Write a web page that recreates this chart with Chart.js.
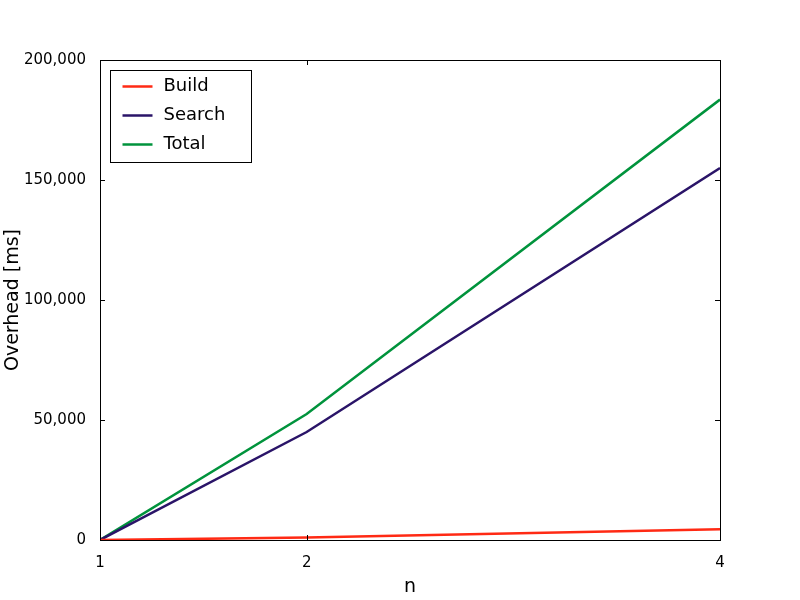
<!DOCTYPE html>
<html><head>
<script src="https://cdn.jsdelivr.net/npm/chart.js@4"></script>
<style>body{margin:0;background:#fff}#c{width:800px;height:600px}</style>
</head><body>
<div id="c"><canvas id="myChart" width="800" height="600"></canvas></div>
<script>
var nValues = [1, 2, 4];
var buildMs = [0, 1000, 4500];
var searchMs = [0, 45000, 155000];
var totalMs = [0, 52500, 183500];
var yTicks = [0, 50000, 100000, 150000, 200000];

function pts(ys) { return nValues.map(function (x, i) { return {x: x, y: ys[i]}; }); }

var frame = {
  id: 'frame',
  afterDraw: function (chart) {
    var c = chart.ctx, a = chart.chartArea;
    c.save();
    c.strokeStyle = '#000'; c.lineWidth = 1;
    c.strokeRect(a.left + 0.5, a.top + 0.5, a.right - a.left, a.bottom - a.top);
    // inward ticks on all four sides
    nValues.forEach(function (v) {
      var x = Math.round(chart.scales.x.getPixelForValue(v)) + 0.5;
      c.beginPath(); c.moveTo(x, a.bottom); c.lineTo(x, a.bottom - 5);
      c.moveTo(x, a.top); c.lineTo(x, a.top + 5); c.stroke();
    });
    yTicks.forEach(function (v) {
      var y = Math.round(chart.scales.y.getPixelForValue(v)) + 0.5;
      c.beginPath(); c.moveTo(a.left, y); c.lineTo(a.left + 5, y);
      c.moveTo(a.right, y); c.lineTo(a.right - 5, y); c.stroke();
    });
    // legend box
    var bx = a.left + 10.5, by = a.top + 10.5, bw = 141, bh = 92;
    c.fillStyle = '#fff'; c.fillRect(bx, by, bw, bh); c.strokeRect(bx, by, bw, bh);
    c.font = '18px "DejaVu Sans"'; c.textBaseline = 'middle';
    chart.data.datasets.forEach(function (d, i) {
      var y = by + 16 + i * 29;
      c.strokeStyle = d.borderColor; c.lineWidth = 2.5;
      c.beginPath(); c.moveTo(bx + 12, y); c.lineTo(bx + 42, y); c.stroke();
      c.fillStyle = '#000'; c.fillText(d.label, bx + 53, y);
    });
    c.restore();
  }
};

new Chart(document.getElementById('myChart').getContext('2d'), {
  type: 'line',
  data: {
    datasets: [
      {label: 'Build', data: pts(buildMs), borderColor: '#ff2a14'},
      {label: 'Search', data: pts(searchMs), borderColor: '#2a1468'},
      {label: 'Total', data: pts(totalMs), borderColor: '#00933c'}
    ]
  },
  options: {
    responsive: false, animation: false,
    layout: {padding: {top: 60, right: 80, left: 0, bottom: 0}},
    elements: {point: {radius: 0}, line: {borderWidth: 2.5, tension: 0}},
    plugins: {legend: {display: false}, tooltip: {enabled: false}},
    scales: {
      x: {
        type: 'linear', min: 1, max: 4,
        afterBuildTicks: function (s) { s.ticks = nValues.map(function (v) { return {value: v}; }); },
        afterFit: function (s) { s.height = 60; },
        grid: {display: false}, border: {display: false},
        ticks: {color: '#000', font: {family: 'DejaVu Sans', size: 15}, padding: 6, maxRotation: 0},
        title: {display: true, text: 'n', color: '#000', font: {family: 'DejaVu Sans', size: 19}, padding: 2}
      },
      y: {
        min: 0, max: 200000,
        afterBuildTicks: function (s) { s.ticks = yTicks.map(function (v) { return {value: v}; }); },
        afterFit: function (s) { s.width = 100; },
        grid: {display: false}, border: {display: false},
        ticks: {color: '#000', font: {family: 'DejaVu Sans', size: 15}, padding: 6},
        title: {display: true, text: 'Overhead [ms]', color: '#000', font: {family: 'DejaVu Sans', size: 19}, padding: 2}
      }
    }
  },
  plugins: [frame]
});
</script>
</body></html>
